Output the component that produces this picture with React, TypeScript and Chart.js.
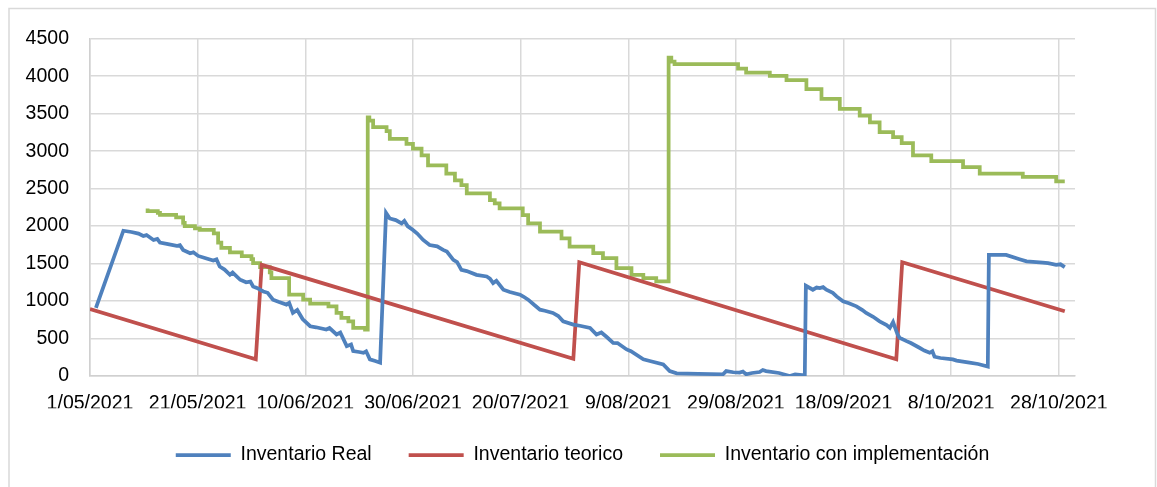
import { useEffect, useRef } from "react";
import { Chart, registerables } from "chart.js";

Chart.register(...registerables);

// X axis: days since 1/05/2021
const tickDays = [0, 20, 40, 60, 80, 100, 120, 140, 160, 180];
const tickLabels = [
  "1/05/2021", "21/05/2021", "10/06/2021", "30/06/2021", "20/07/2021",
  "9/08/2021", "29/08/2021", "18/09/2021", "8/10/2021", "28/10/2021",
];
const yTicks = [0, 500, 1000, 1500, 2000, 2500, 3000, 3500, 4000, 4500];

const seriesNames = ["Inventario Real", "Inventario teorico", "Inventario con implementación"];

const realDays = [
  1.1, 6.2, 7.7, 9.0, 9.9, 10.5, 11.8, 12.5, 13.0, 14.5, 16.1, 16.7, 17.3, 18.6, 19.2, 20.1,
  21.5, 22.9, 23.5, 24.1, 25.0, 26.0, 26.5, 27.9, 29.0, 29.8, 30.3, 31.0, 32.2, 33.0, 34.0,
  35.0, 36.5, 37.0, 37.7, 38.5, 39.5, 40.9, 42.0, 43.9, 44.5, 45.8, 46.5, 47.7, 48.5, 48.9,
  50.0, 50.8, 51.3, 52.0, 53.0, 53.9, 55.0, 55.7, 56.8, 57.9, 58.4, 59.0, 60.0, 60.8, 61.9,
  63.1, 64.5, 65.6, 66.3, 67.5, 68.2, 69.0, 70.0, 71.8, 73.7, 74.3, 74.9, 75.5, 76.8, 78.0,
  79.9, 80.5, 81.4, 82.5, 83.6, 84.5, 86.0, 87.0, 87.9, 89.8, 91.0, 92.9, 94.1, 95.0, 96.0,
  97.2, 98.0, 99.7, 100.5, 102.8, 104.0, 106.5, 107.7, 109.0, 113.0, 117.6, 118.2, 119.5,
  120.7, 121.3, 121.9, 123.0, 124.4, 125.0, 125.6, 128.0, 130.0, 131.0, 132.8, 133.0, 134.3,
  135.0, 135.6, 136.2, 136.8, 138.0, 138.7, 139.9, 141.0, 142.4, 143.5, 144.2, 145.5, 146.7,
  148.0, 148.6, 149.2, 150.0, 150.4, 151.7, 152.5, 154.1, 155.0, 156.0, 156.5, 156.9, 158.0,
  160.3, 161.0, 163.4, 165.0, 166.8, 167.0, 170.2, 172.7, 174.0, 177.0, 178.0, 179.5, 180.3,
  181.1,
];
const realValues = [
  908, 1938, 1921, 1900, 1868, 1880, 1815, 1830, 1779, 1760, 1735, 1745, 1682, 1638, 1650, 1602,
  1570, 1540, 1555, 1460, 1420, 1350, 1380, 1284, 1250, 1260, 1195, 1175, 1128, 1110, 1018,
  990, 952, 975, 841, 880, 760, 664, 650, 620, 640, 554, 580, 398, 420, 332,
  320, 310, 330, 222, 200, 178, 2177, 2102, 2080, 2036, 2070, 2000, 1947, 1900, 1815,
  1748, 1730, 1682, 1660, 1549, 1520, 1416, 1400, 1350, 1328, 1300, 1240, 1270, 1151, 1120,
  1085, 1060, 1018, 950, 885, 870, 841, 800, 730, 686, 670, 642, 554, 580, 520,
  443, 440, 354, 330, 222, 200, 155, 66, 36, 30, 23, 66, 50,
  45, 60, 23, 40, 53, 80, 66, 40, 0, 20, 9, 1204, 1151,
  1180, 1173, 1185, 1151, 1110, 1062, 996, 970, 929, 880, 841, 790, 730,
  680, 642, 720, 560, 510, 465, 440, 377, 340, 310, 330, 257, 240,
  222, 205, 178, 160, 125, 1616, 1616, 1558, 1530, 1513, 1505, 1483, 1490,
  1452,
];

const theoDays = [0, 30.8, 31.9, 89.8, 90.9, 149.8, 150.9, 181.1];
const theoValues = [894, 222, 1483, 231, 1518, 222, 1518, 863];

const implDays = [
  10.7, 12.6, 13.0, 16.0, 17.3, 17.6, 19.5, 20.4, 23.0, 23.8, 24.4, 26.0, 28.2, 30.0, 30.3,
  31.6, 33.4, 33.7, 37.0, 39.6, 40.9, 44.3, 45.8, 46.7, 48.0, 48.9, 51.1, 51.6, 51.9, 52.6,
  55.1, 55.7, 58.8, 60.0, 61.6, 62.8, 66.2, 67.8, 69.0, 70.0, 74.3, 75.2, 76.1, 80.4, 81.4,
  83.6, 87.6, 89.1, 93.5, 95.3, 97.8, 100.6, 102.8, 105.2, 107.5, 108.0, 108.6, 120.4, 121.9,
  126.3, 129.4, 133.1, 135.9, 139.3, 143.0, 144.9, 146.7, 149.2, 150.8, 152.9, 156.3, 162.2,
  165.3, 173.3, 179.5, 181.1,
];
const implValues = [
  2235, 2200, 2177, 2150, 2116, 2044, 2000, 1970, 1950, 1904, 1779, 1710, 1650, 1600, 1558,
  1505, 1452, 1381, 1306, 1085, 1018, 965, 929, 841, 775, 730, 642, 620, 3451, 3408,
  3319, 3266, 3165, 3098, 3032, 2943, 2810, 2700, 2611, 2545, 2435, 2346, 2302, 2235, 2147,
  2036, 1925, 1837, 1726, 1638, 1572, 1439, 1350, 1306, 1261, 4248, 4195, 4160, 4102,
  4049, 4005, 3948, 3828, 3696, 3563, 3474, 3385, 3252, 3186, 3106, 2943, 2867,
  2788, 2700, 2655, 2598,
];

const colors = ["#4F81BD", "#C0504D", "#9BBB59"];

const toPoints = (xs: number[], ys: number[]) => xs.map((x, i) => ({ x, y: ys[i] }));

export default function App() {
  const ref = useRef<HTMLCanvasElement>(null);

  useEffect(() => {
    if (!ref.current) return;
    Chart.defaults.font.family = "'Liberation Sans', Arial, sans-serif";
    Chart.defaults.font.size = 19.5;
    Chart.defaults.color = "#000";

    const outerBorder = {
      id: "outerBorder",
      beforeDraw(chart: any) {
        const ctx = chart.ctx;
        ctx.save();
        ctx.fillStyle = "#fff";
        ctx.fillRect(0, 0, chart.width, chart.height);
        ctx.strokeStyle = "#d9d9d9";
        ctx.lineWidth = 1.5;
        ctx.strokeRect(9, 8.5, 1146.5, 520);
        ctx.restore();
      },
    };

    const chart = new Chart(ref.current, {
      type: "line",
      data: {
        datasets: [
          {
            label: seriesNames[0],
            data: toPoints(realDays, realValues),
            borderColor: colors[0],
            backgroundColor: colors[0],
            borderWidth: 3.75,
            pointRadius: 0,
            tension: 0,
          },
          {
            label: seriesNames[1],
            data: toPoints(theoDays, theoValues),
            borderColor: colors[1],
            backgroundColor: colors[1],
            borderWidth: 3.75,
            pointRadius: 0,
            tension: 0,
          },
          {
            label: seriesNames[2],
            data: toPoints(implDays, implValues),
            borderColor: colors[2],
            backgroundColor: colors[2],
            borderWidth: 3.75,
            pointRadius: 0,
            tension: 0,
            stepped: "after",
          },
        ],
      },
      options: {
        responsive: false,
        animation: false,
        layout: { padding: { left: 0, right: 82, top: 38.7, bottom: 12.25 } },
        plugins: {
          legend: {
            position: "bottom",
            fullSize: false,
            labels: {
              usePointStyle: true,
              pointStyle: "line",
              pointStyleWidth: 55,
              padding: 37,
              color: "#000",
              font: { size: 19.5 },
            },
          },
          tooltip: { enabled: false },
        },
        scales: {
          x: {
            type: "linear",
            min: 0,
            max: 183,
            afterBuildTicks: (axis: any) => {
              axis.ticks = tickDays.map((v) => ({ value: v }));
            },
            afterFit: (axis: any) => {
              axis.height = 32.25;
            },
            ticks: {
              padding: 16,
              maxRotation: 0,
              autoSkip: false,
              callback: (value: any) => {
                const i = tickDays.indexOf(Number(value));
                return i >= 0 ? tickLabels[i] : "";
              },
            },
            grid: { color: "#d9d9d9", lineWidth: 1.5, drawTicks: false },
            border: { color: "#d0d0d0", width: 1.5 },
          },
          y: {
            min: 0,
            max: 4500,
            afterBuildTicks: (axis: any) => {
              axis.ticks = yTicks.map((v) => ({ value: v }));
            },
            afterFit: (axis: any) => {
              axis.width = 90;
            },
            ticks: {
              padding: 21,
              callback: (value: any) => String(value),
            },
            grid: { color: "#d9d9d9", lineWidth: 1.5, drawTicks: false },
            border: { color: "#d0d0d0", width: 1.5 },
          },
        },
      },
      plugins: [outerBorder],
    });
    return () => chart.destroy();
  }, []);

  return (
    <div style={{ position: "absolute", left: 0, top: 0, width: 1157, height: 487, background: "#fff" }}>
      <canvas ref={ref} width={1157} height={487} style={{ display: "block" }} />
    </div>
  );
}
